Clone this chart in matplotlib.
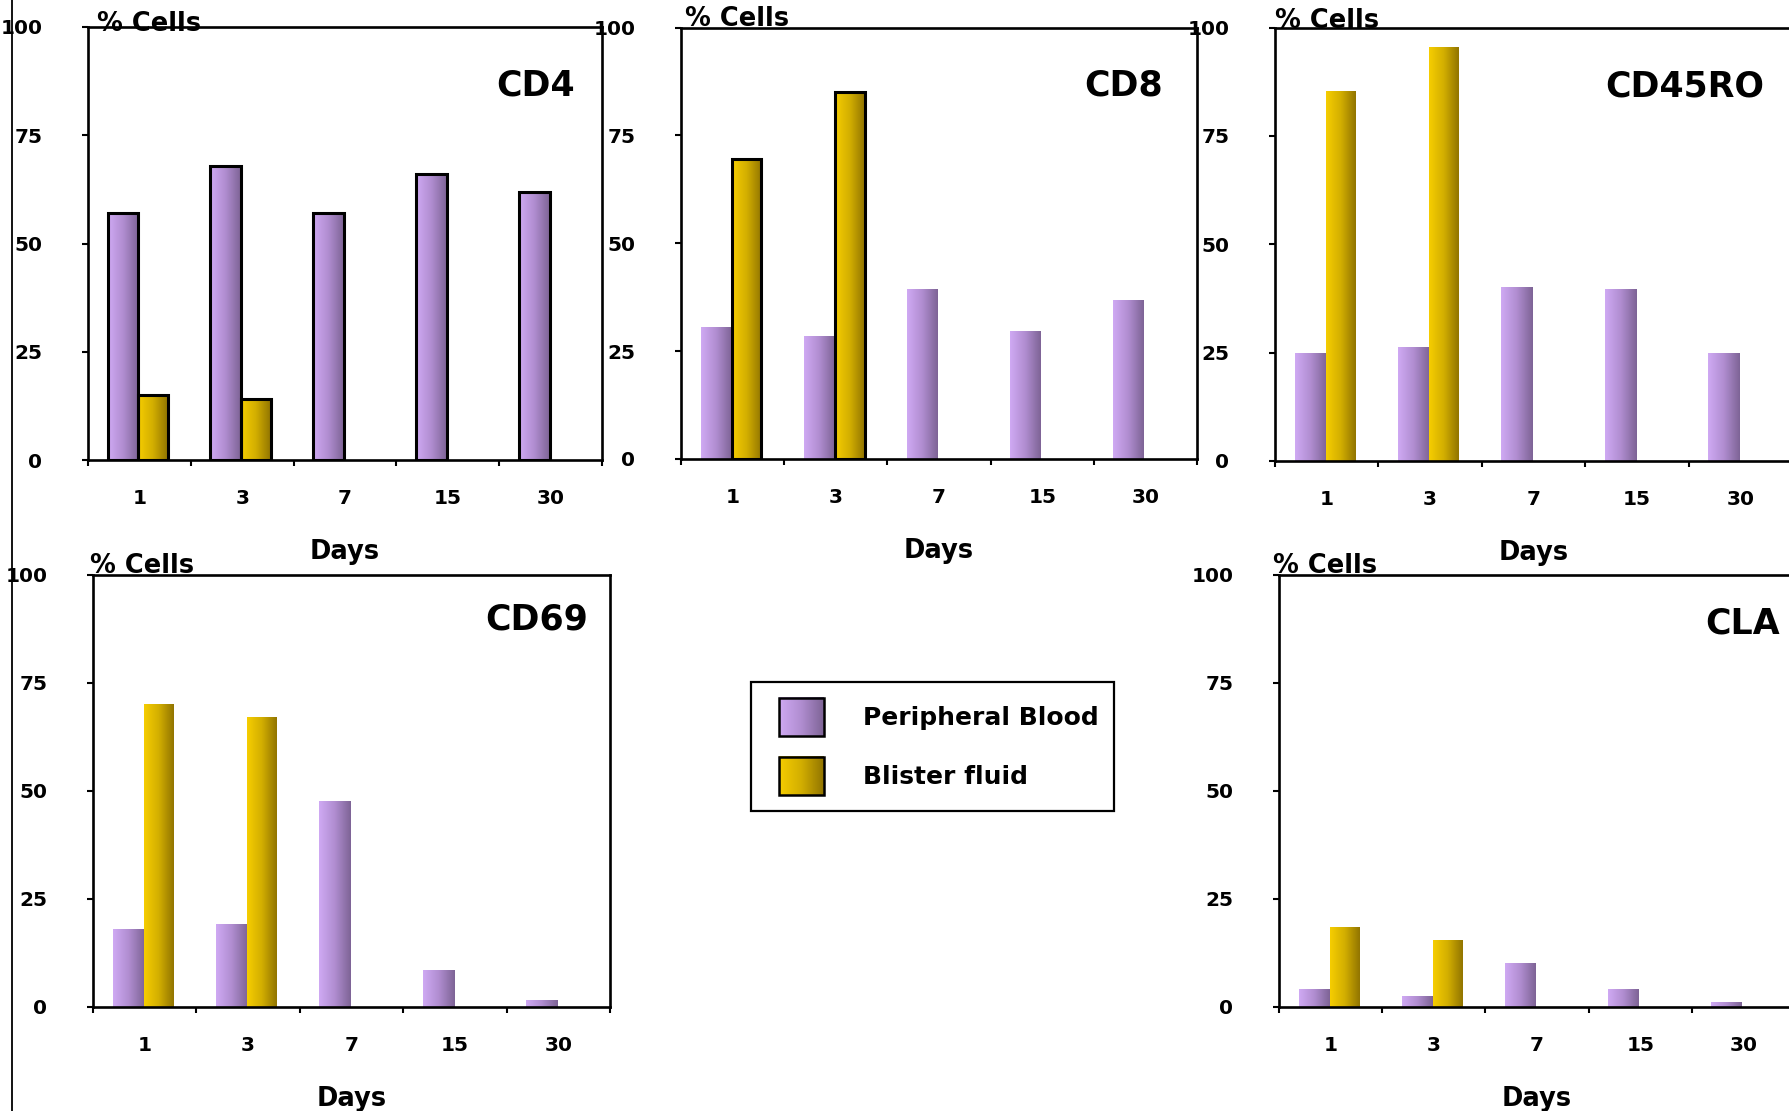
import numpy as np
import matplotlib
matplotlib.use("Agg")
import matplotlib.pyplot as plt
from matplotlib.colors import LinearSegmentedColormap
from matplotlib.patches import Patch, Rectangle
from matplotlib.legend_handler import HandlerBase
from matplotlib.image import BboxImage
from matplotlib.transforms import Bbox, TransformedBbox
from matplotlib.lines import Line2D

# ---------------- data ----------------
days = ["1", "3", "7", "15", "30"]
series_names = ["Peripheral Blood", "Blister fluid"]

cd4_pb = [57, 68, 57, 66, 62]
cd4_bf = [15, 14, None, None, None]

cd8_pb = [30.4, 28.3, 39.2, 29.6, 36.8]
cd8_bf = [69.6, 85, None, None, None]

cd45ro_pb = [24.8, 26.1, 40.1, 39.6, 24.8]
cd45ro_bf = [85.2, 95.3, None, None, None]

cd69_pb = [18, 19, 47.5, 8.5, 1.5]
cd69_bf = [70, 67, None, None, None]

cla_pb = [4, 2.5, 10, 4, 1]
cla_bf = [18.3, 15.5, None, None, None]

y_ticks = [0, 25, 50, 75, 100]

# ---------------- style ----------------
W, H = 1789, 1111
plt.rcParams["font.family"] = ["DejaVu Sans"]
plt.rcParams["font.weight"] = "bold"

pb_cmap = LinearSegmentedColormap.from_list("pb", ["#CFA9F3", "#B08DD0", "#7E6496"])
bf_cmap = LinearSegmentedColormap.from_list("bf", ["#F6CD00", "#D2AE00", "#927500"])
grad = np.linspace(0, 1, 64).reshape(1, -1)

fig = plt.figure(figsize=(W / 100, H / 100), dpi=100)


def px_rect(l, r, t, b):
    return [l / W, 1 - b / H, (r - l) / W, (b - t) / H]


def gradient_bars(ax, xs, vals, offset, width, cmap, edge):
    idx = [i for i, v in enumerate(vals) if v is not None]
    x = np.array([xs[i] for i in idx]) + offset
    h = [vals[i] for i in idx]
    bars = ax.bar(x, h, width=width, facecolor="none",
                  edgecolor="black" if edge else "none",
                  linewidth=2.2 if edge else 0, zorder=3)
    for b in bars:
        x0, w_, hh = b.get_x(), b.get_width(), b.get_height()
        ax.imshow(grad, extent=(x0, x0 + w_, 0, hh), aspect="auto",
                  cmap=cmap, interpolation="bilinear", zorder=2)


panels = [
    # name, pb, bf, rect(l, r, t, b), pb edge, bf edge, title offset, cells offset
    ("CD4", cd4_pb, cd4_bf, (88, 602, 27, 460), True, True, (27, 59), (9, 3)),
    ("CD8", cd8_pb, cd8_bf, (681, 1197, 27.5, 459), False, True, (34, 58), (4, 9)),
    ("CD45RO", cd45ro_pb, cd45ro_bf, (1275, 1792, 27.5, 461), False, False, (28, 59), (0, 7)),
    ("CD69", cd69_pb, cd69_bf, (93, 610, 575, 1007), False, False, (22, 44), (-3, 9)),
    ("CLA", cla_pb, cla_bf, (1279, 1795, 575, 1007), False, False, (15, 49), (-6, 9)),
]

xs = np.arange(len(days))
for name, pb, bf, (l, r, t, b), pb_edge, bf_edge, (tdx, tdy), (cdx, cdy) in panels:
    ax = fig.add_axes(px_rect(l, r, t, b))
    gradient_bars(ax, xs, pb, -0.16, 0.30, pb_cmap, pb_edge)
    gradient_bars(ax, xs, bf, 0.135, 0.29, bf_cmap, bf_edge)
    ax.set_xlim(-0.5, len(days) - 0.5)
    ax.set_ylim(0, 100)
    for s in ax.spines.values():
        s.set_linewidth(1.9)
        s.set_color("black")
        s.set_zorder(4)
    ax.set_yticks(y_ticks)
    ax.set_yticklabels([str(v) for v in y_ticks])
    ax.tick_params(axis="y", direction="out", length=4.3, width=1.5,
                   pad=28.5, labelsize=14.5)
    ax.set_xticks(xs)
    ax.set_xticklabels(days)
    ax.set_xticks(np.arange(-0.5, len(days)), minor=True)
    ax.tick_params(axis="x", which="major", length=0, pad=21, labelsize=14.5)
    ax.tick_params(axis="x", which="minor", direction="out", length=4.3, width=1.5)
    ax.set_xlabel("Days", fontsize=18.5, fontweight="bold")
    ax.xaxis.set_label_coords(0.5, -92 / (b - t))
    ax.xaxis.label.set_va("center")
    ax.annotate(name, xy=(1, 1), xycoords="axes fraction", xytext=(-tdx, -tdy),
                textcoords="offset pixels", ha="right", va="center",
                fontsize=25, fontweight="bold")
    ax.annotate("% Cells", xy=(0, 1), xycoords="axes fraction", xytext=(cdx, cdy),
                textcoords="offset pixels", ha="left", va="center",
                fontsize=18.5, fontweight="bold", zorder=6,
                annotation_clip=False)
    ax.set_facecolor("none")


class GradHandler(HandlerBase):
    """Gradient swatch drawn at the right part of the handle box."""

    def __init__(self, cmap, lead):
        super().__init__()
        self.cmap = cmap
        self.lead = lead

    def create_artists(self, legend, orig_handle, xdescent, ydescent,
                       width, height, fontsize, trans):
        x0 = -xdescent + self.lead * fontsize
        w_ = width - self.lead * fontsize
        bb = Bbox.from_bounds(x0, -ydescent, w_, height)
        im = BboxImage(TransformedBbox(bb, trans), cmap=self.cmap,
                       interpolation="bilinear", origin="lower")
        im.set_data(grad)
        im.set_clim(0, 1)
        rect = Rectangle((x0, -ydescent), w_, height, facecolor="none",
                         edgecolor="black", linewidth=1.8, transform=trans)
        return [im, rect]


h_pb = Patch(label=series_names[0])
h_bf = Patch(label=series_names[1])
leg = fig.legend([h_pb, h_bf], series_names, loc="upper left",
                 bbox_to_anchor=(751 / W, 1 - 682 / H), bbox_transform=fig.transFigure,
                 borderaxespad=0, borderpad=0.62, fancybox=False, framealpha=1,
                 edgecolor="black", fontsize=18, handlelength=2.3, handleheight=1.97,
                 handletextpad=1.55, labelspacing=0.85,
                 handler_map={h_pb: GradHandler(pb_cmap, 0.5),
                              h_bf: GradHandler(bf_cmap, 0.5)})
leg.get_frame().set_linewidth(1.6)

# thin frame line at far left of the collage
fig.add_artist(Line2D([12 / W, 12 / W], [0, 1], color="black", linewidth=1.3,
                      transform=fig.transFigure))

fig.savefig("out.png", dpi=100)
